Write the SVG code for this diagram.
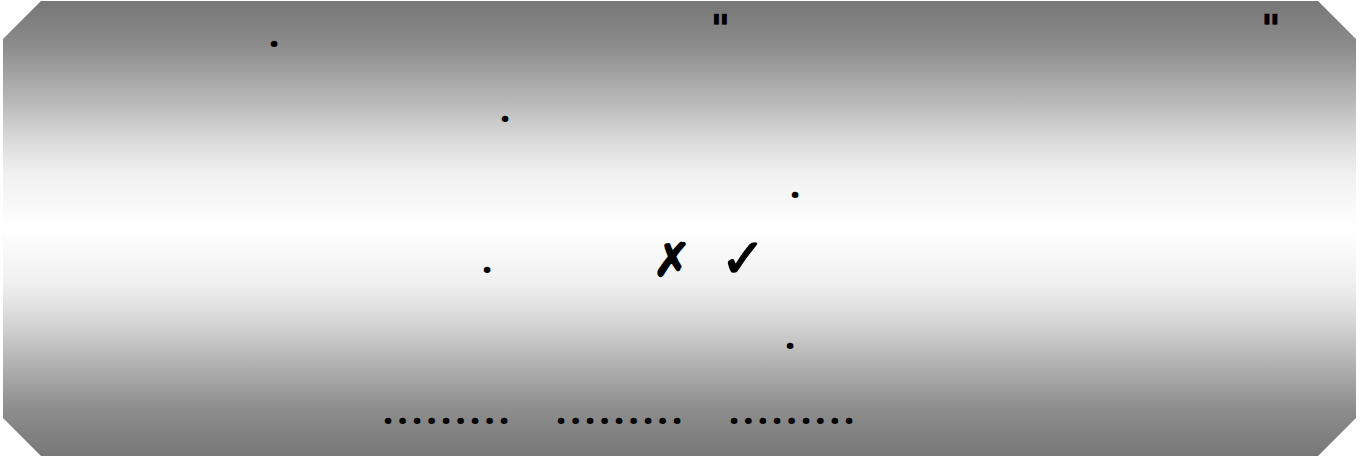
<svg xmlns="http://www.w3.org/2000/svg" width="1371" height="459" viewBox="0 0 1371 459">
<style>
.t{font-family:"Noto Sans","DejaVu Sans",sans-serif;font-weight:bold;fill:#000;text-anchor:middle}
.d{font-size:38px}
.q{font-size:37px;font-family:"DejaVu Sans",sans-serif;font-weight:bold;stroke:#000;stroke-width:0.6}
.m{font-family:"DejaVu Sans",sans-serif;font-weight:bold;stroke:#000;stroke-width:1.6;stroke-linejoin:round}
</style>
<defs>
<linearGradient id="bg" x1="0" y1="1" x2="0" y2="456" gradientUnits="userSpaceOnUse">
<stop offset="0" stop-color="#777777"/>
<stop offset="0.1" stop-color="#8c8c8c"/>
<stop offset="0.22" stop-color="#b8b8b8"/>
<stop offset="0.3" stop-color="#d8d8d8"/>
<stop offset="0.38" stop-color="#f0f0f0"/>
<stop offset="0.5" stop-color="#ffffff"/>
<stop offset="0.62" stop-color="#f0f0f0"/>
<stop offset="0.7" stop-color="#d8d8d8"/>
<stop offset="0.78" stop-color="#b8b8b8"/>
<stop offset="0.9" stop-color="#8c8c8c"/>
<stop offset="1" stop-color="#777777"/>
</linearGradient>
</defs>
<rect width="1371" height="459" fill="#ffffff"/>
<g id="panel">
<polygon points="41,1 1318,1 1356,39 1356,418 1318,456 41,456 3,418 3,39" fill="url(#bg)"/>
</g>
<g id="marks">
<text class="t q" x="720.5" y="41">"</text>
<text class="t q" x="1271" y="41">"</text>
<text class="t d" x="274" y="46.5">.</text>
<text class="t d" x="505" y="121.5">.</text>
<text class="t d" x="795" y="197.5">.</text>
<text class="t d" x="487" y="272.5">.</text>
<text class="t d" x="790" y="348.5">.</text>
<text class="t m" x="672" y="276" font-size="46">✗</text>
<text class="t m" x="743" y="277" font-size="54">✓</text>
</g>
<g id="rows">
<text class="t d" x="388 402.5 417 431.5 446 460.5 475 489.5 504" y="423.5">.........</text>
<text class="t d" x="561 575.5 590 604.5 619 633.5 648 662.5 677" y="423.5">.........</text>
<text class="t d" x="734 748.4 762.8 777.2 791.6 806 820.4 834.8 849" y="423.5">.........</text>
</g>
</svg>
